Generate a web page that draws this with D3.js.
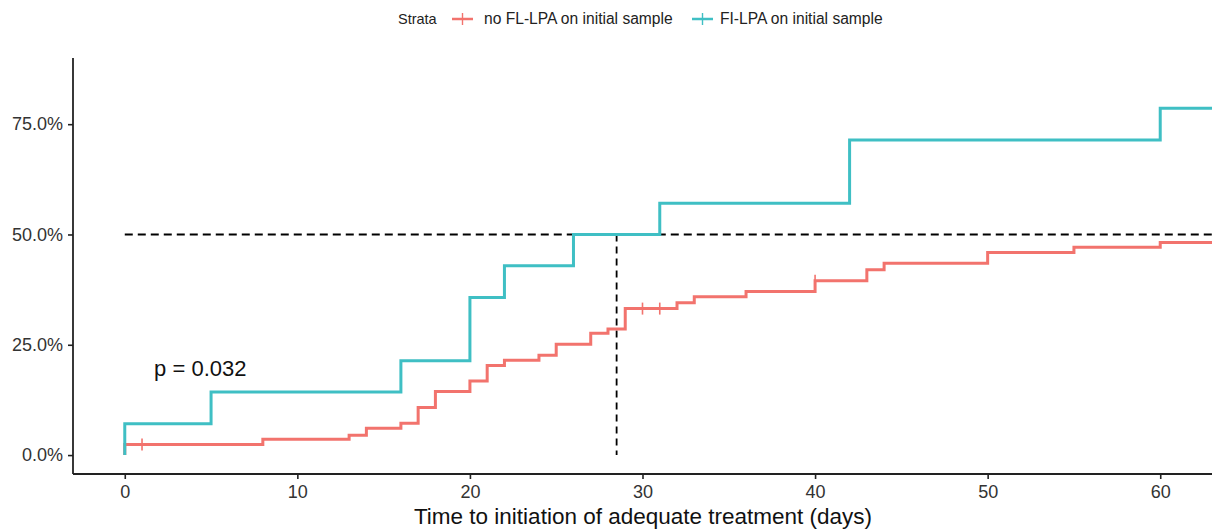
<!DOCTYPE html>
<html>
<head>
<meta charset="utf-8">
<script src="https://cdn.jsdelivr.net/npm/d3@7.9.0/dist/d3.min.js"></script>
<style>
  body { margin: 0; background: #fff; }
  svg { display: block; font-family: 'Liberation Sans', Arial, sans-serif; }
</style>
</head>
<body>
<svg width="1212" height="531"></svg>
<script>
// cumulative event curves
const redTimes = [0, 8, 13, 14, 16, 17, 18, 20, 21, 22, 24, 25, 27, 28, 29, 32, 33, 36, 40, 43, 44, 50, 55, 60];
const redValues = [0.024, 0.036, 0.045, 0.061, 0.072, 0.108, 0.144, 0.168, 0.203, 0.215, 0.226, 0.251, 0.276, 0.286, 0.332, 0.345, 0.359, 0.371, 0.395, 0.42, 0.435, 0.459, 0.471, 0.482];
const redCensorTimes = [1, 30, 31, 40];

const tealTimes = [0, 5, 16, 20, 22, 26, 31, 42, 60];
const tealValues = [0.071, 0.143, 0.214, 0.357, 0.429, 0.5, 0.571, 0.714, 0.786];

const strataLabels = ['no FL-LPA on initial sample', 'FI-LPA on initial sample'];
const strataColors = ['#F2736D', '#3FBFC4'];

const xTicks = [0, 10, 20, 30, 40, 50, 60];
const yTicks = [0, 0.25, 0.5, 0.75];
const medianLevel = 0.5;
const medianTime = 28.5;
const endTime = 63;
const pLabel = 'p = 0.032';

const svg = d3.select('svg');
const x = d3.scaleLinear().domain([-3, 63]).range([73, 1212]);
const y = d3.scaleLinear().domain([-0.0429, 0.9]).range([474, 58]);

// build step points starting from (0, 0)
function stepPoints(times, values) {
  let pts = [[0, 0]];
  times.forEach((t, i) => pts.push([t, values[i]]));
  pts.push([endTime, values[values.length - 1]]);
  return pts;
}

const line = d3.line()
  .x(d => x(d[0]))
  .y(d => y(d[1]))
  .curve(d3.curveStepAfter);

// median guide lines
svg.append('line')
  .attr('x1', x(0)).attr('x2', x(endTime))
  .attr('y1', y(medianLevel)).attr('y2', y(medianLevel))
  .attr('stroke', '#000').attr('stroke-width', 1.8)
  .attr('stroke-dasharray', '8,5');
svg.append('line')
  .attr('x1', x(medianTime)).attr('x2', x(medianTime))
  .attr('y1', y(medianLevel)).attr('y2', y(0))
  .attr('stroke', '#000').attr('stroke-width', 1.8)
  .attr('stroke-dasharray', '7,5');

// curves
svg.append('path')
  .attr('d', line(stepPoints(redTimes, redValues)))
  .attr('fill', 'none').attr('stroke', strataColors[0]).attr('stroke-width', 3);
svg.append('path')
  .attr('d', line(stepPoints(tealTimes, tealValues)))
  .attr('fill', 'none').attr('stroke', strataColors[1]).attr('stroke-width', 3);

// censor marks
function valueAt(times, values, t) {
  let v = 0;
  times.forEach((tt, i) => { if (tt <= t) v = values[i]; });
  return v;
}
redCensorTimes.forEach(t => {
  const cx = x(t), cy = y(valueAt(redTimes, redValues, t));
  svg.append('line').attr('x1', cx).attr('x2', cx).attr('y1', cy - 6).attr('y2', cy + 6)
    .attr('stroke', strataColors[0]).attr('stroke-width', 1.6);
});

// axes
const xAxis = svg.append('g').attr('transform', `translate(0,${474})`)
  .call(d3.axisBottom(x).tickValues(xTicks).tickSize(5).tickPadding(6));
const yAxis = svg.append('g').attr('transform', `translate(${73},0)`)
  .call(d3.axisLeft(y).tickValues(yTicks).tickFormat(d3.format('.1%')).tickSize(5).tickPadding(5));
[xAxis, yAxis].forEach(g => {
  g.select('.domain').attr('stroke', '#222').attr('stroke-width', 1.8);
  g.selectAll('.tick line').attr('stroke', '#222').attr('stroke-width', 1.6);
  g.selectAll('.tick text').attr('fill', '#333').style('font-size', '18px')
    .style('font-family', "'Liberation Sans', Arial, sans-serif");
});
yAxis.select('.domain').attr('d', `M0,${58}V${474}`);
xAxis.select('.domain').attr('d', `M${73},0H${1212}`);

// axis title
svg.append('text')
  .attr('x', 643).attr('y', 524)
  .attr('text-anchor', 'middle')
  .style('font-size', '22.5px').attr('fill', '#111')
  .text('Time to initiation of adequate treatment (days)');

// p value
svg.append('text')
  .attr('x', x(1.7)).attr('y', 376)
  .style('font-size', '22px').attr('fill', '#111')
  .text(pLabel);

// legend
const legend = svg.append('g').attr('transform', 'translate(398,24)');
legend.append('text').attr('x', 0).attr('y', 0).style('font-size', '14.5px').attr('fill', '#222').text('Strata');
const keyX = [54, 294];
strataLabels.forEach((lab, i) => {
  const kx = keyX[i];
  legend.append('line').attr('x1', kx).attr('x2', kx + 21).attr('y1', -5).attr('y2', -5)
    .attr('stroke', strataColors[i]).attr('stroke-width', 2.5);
  legend.append('line').attr('x1', kx + 10.5).attr('x2', kx + 10.5).attr('y1', -11).attr('y2', 1)
    .attr('stroke', strataColors[i]).attr('stroke-width', 1.4);
  legend.append('text').attr('x', kx + (i === 0 ? 32 : 28)).attr('y', 0)
    .style('font-size', '15.6px').attr('fill', '#222').text(lab);
});
</script>
</body>
</html>
